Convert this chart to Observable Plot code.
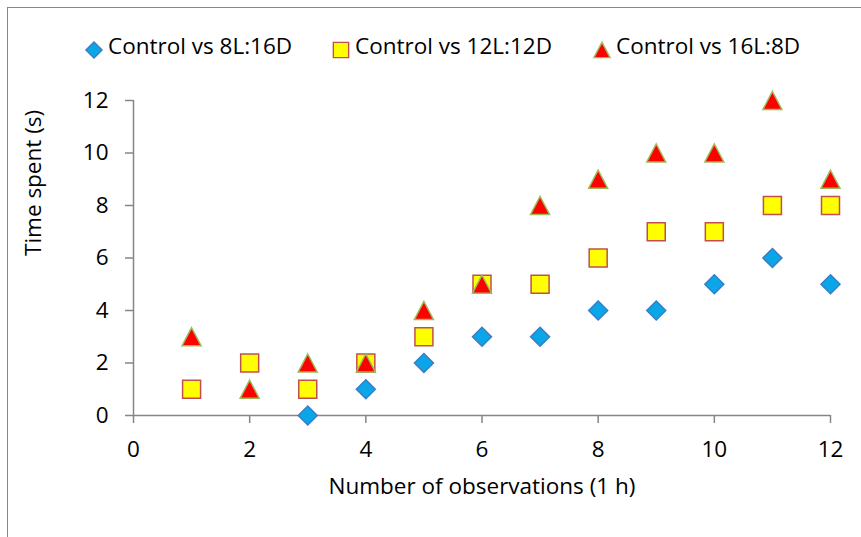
<!DOCTYPE html>
<html>
<head>
<meta charset="utf-8">
<script src="https://cdn.jsdelivr.net/npm/d3@7"></script>
<script src="https://cdn.jsdelivr.net/npm/@observablehq/plot@0.6"></script>
<style>
  html, body { margin: 0; padding: 0; background: #fff; }
  #wrap { position: relative; width: 861px; height: 537px; overflow: hidden; font-family: "Open Sans", Lato, sans-serif; }
  #frame { position: absolute; left: 7px; top: 7px; width: 900px; height: 600px; border-left: 1.5px solid #888; border-top: 1.5px solid #888; box-sizing: border-box; }
  #legend { position: absolute; top: 0; left: 0; width: 861px; height: 80px; font-size: 22.5px; color: #000; }
  .sym { position: absolute; }
  .lab { position: absolute; white-space: nowrap; line-height: 30px; height: 30px; }
  #chart { position: absolute; left: 0; top: 0; }
</style>
</head>
<body>
<div id="wrap">
  <div id="frame"></div>
  <div id="chart"></div>
  <div id="legend"></div>
</div>
<script>
// ---- data ----
const obs = [1, 2, 3, 4, 5, 6, 7, 8, 9, 10, 11, 12];
const seriesNames = ["Control vs 8L:16D", "Control vs 12L:12D", "Control vs 16L:8D"];
const series8L16D  = [null, null, 0, 1, 2, 3, 3, 4, 4, 5, 6, 5];
const series12L12D = [1, 2, 1, 2, 3, 5, 5, 6, 7, 7, 8, 8];
const series16L8D  = [3, 1, 2, 2, 4, 5, 8, 9, 10, 10, 12, 9];
const xTicks = [0, 2, 4, 6, 8, 10, 12];
const yTicks = [0, 2, 4, 6, 8, 10, 12];
const xTitle = "Number of observations (1 h)";
const yTitle = "Time spent (s)";

// ---- symbols ----
const diamondSym = {draw(ctx, size) { const r = Math.sqrt(size / Math.PI); ctx.moveTo(0, -r); ctx.lineTo(r, 0); ctx.lineTo(0, r); ctx.lineTo(-r, 0); ctx.closePath(); }};
const squareSym = {draw(ctx, size) { const r = Math.sqrt(size / Math.PI); ctx.rect(-r, -r, 2 * r, 2 * r); }};
const triangleSym = {draw(ctx, size) { const r = Math.sqrt(size / Math.PI); ctx.moveTo(0, -0.95 * r); ctx.lineTo(r, 0.95 * r); ctx.lineTo(-r, 0.95 * r); ctx.closePath(); }};

const styles = [
  {sym: diamondSym, r: 9.5, fill: "#0AA6E8", stroke: "#3D7CC2"},
  {sym: squareSym, r: 9, fill: "#FFFF00", stroke: "#C0504D"},
  {sym: triangleSym, r: 9.5, fill: "#FF0000", stroke: "#9BBB59"}
];
const allSeries = [series8L16D, series12L12D, series16L8D];
const tables = allSeries.map(vals => obs.map((x, i) => ({x, y: vals[i]})).filter(d => d.y != null));

const font = "'Open Sans', Lato, sans-serif";
const axisColor = "#868686";
const fs = 22.5;

const plot = Plot.plot({
  width: 861,
  height: 537,
  marginLeft: 133,
  marginRight: 31,
  marginTop: 100,
  marginBottom: 122,
  style: {fontFamily: font, fontSize: fs + "px", color: "#000", background: "transparent", overflow: "visible"},
  x: {domain: [0, 12]},
  y: {domain: [0, 12]},
  marks: [
    Plot.ruleX([0], {stroke: axisColor, strokeWidth: 1.5}),
    Plot.ruleY([0], {stroke: axisColor, strokeWidth: 1.5}),
    Plot.axisX({ticks: xTicks, tickSize: 8, tickPadding: 18, stroke: axisColor, strokeWidth: 1.5, label: null, fill: "#000", fontSize: fs}),
    Plot.axisY({ticks: yTicks, tickSize: 8, tickPadding: 17, stroke: axisColor, strokeWidth: 1.5, label: null, fill: "#000", fontSize: fs}),
    ...tables.map((t, i) => Plot.dot(t, {x: "x", y: "y", symbol: styles[i].sym, r: styles[i].r, fill: styles[i].fill, stroke: styles[i].stroke, strokeWidth: 1.5})),
    Plot.text([xTitle], {frameAnchor: "bottom", dy: 78, text: d => d, fontSize: fs, fill: "#000"}),
    Plot.text([yTitle], {frameAnchor: "left", dx: -100, dy: -2, rotate: -90, text: d => d, fontSize: fs, fill: "#000"})
  ]
});
document.getElementById("chart").appendChild(plot);

// ---- legend ----
const legend = document.getElementById("legend");
const symX = [94, 341, 602];
const labX = [108, 355, 616];
const legendY = 46;
seriesNames.forEach((name, i) => {
  const s = styles[i];
  const path = d3.symbol(s.sym, Math.PI * (s.r * 0.85) ** 2)();
  const sv = document.createElement("div");
  sv.className = "sym";
  sv.style.left = (symX[i] - 10) + "px";
  sv.style.top = (legendY - 10) + "px";
  sv.innerHTML = `<svg width="20" height="20" viewBox="-10 -10 20 20"><path d="${path}" fill="${s.fill}" stroke="${s.stroke}" stroke-width="1.4"></path></svg>`;
  legend.appendChild(sv);
  const lab = document.createElement("div");
  lab.className = "lab";
  lab.style.left = labX[i] + "px";
  lab.style.top = (legendY - 15) + "px";
  lab.textContent = name;
  legend.appendChild(lab);
});
</script>
</body>
</html>
